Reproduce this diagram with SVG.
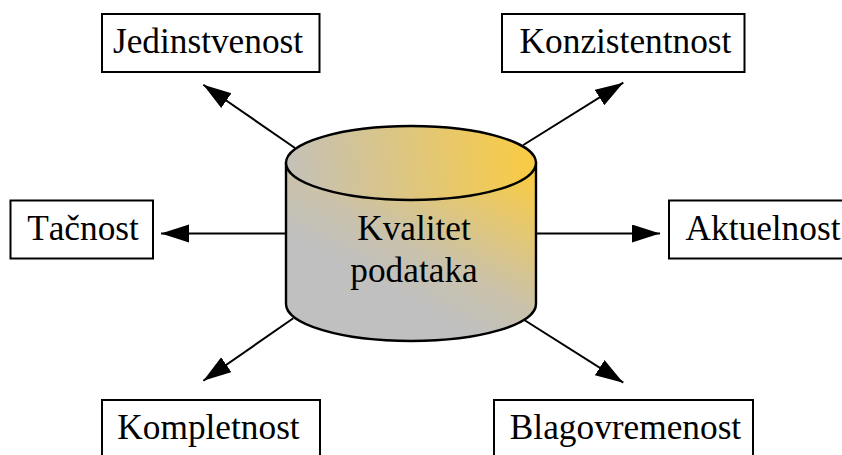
<svg xmlns="http://www.w3.org/2000/svg" width="842" height="455" viewBox="0 0 842 455">
<style>
.box{fill:#fff;stroke:#000;stroke-width:2}
.t{font-family:"Liberation Serif","Times New Roman",serif;font-size:35.300px;font-kerning:none;fill:#000;text-anchor:middle}
.c{stroke:#000;stroke-width:2;fill:none;marker-end:url(#arrow)}
.cyl{stroke:#000;stroke-width:2.4}
</style>
<defs>
<marker id="arrow" markerUnits="userSpaceOnUse" markerWidth="30" markerHeight="20" refX="28" refY="9" orient="auto"><path d="M0 0L28 9L0 18Z" fill="#000"/></marker>
<linearGradient id="body" gradientUnits="userSpaceOnUse" x1="290" y1="235" x2="370" y2="89"><stop offset="0" stop-color="#c0c0c0"/><stop offset="0.3" stop-color="#cac2aa"/><stop offset="1" stop-color="#f8cb46"/></linearGradient>
<linearGradient id="top" gradientUnits="userSpaceOnUse" x1="275" y1="185" x2="525" y2="150"><stop offset="0" stop-color="#c0c0c0"/><stop offset="1" stop-color="#f8cb46"/></linearGradient>
</defs>
<g id="connectors">
<path class="c" d="M295 148L203.300 84.700"/>
<path class="c" d="M523.300 145L623.300 82.700"/>
<path class="c" d="M286 233.500L161 233.500"/>
<path class="c" d="M536 233.500L660 233.500"/>
<path class="c" d="M293.300 318.300L203.300 380.700"/>
<path class="c" d="M524.300 320L623.300 382.700"/>
</g>
<g id="jedinstvenost"><rect class="box" x="102" y="14" width="217.500" height="58"/><text class="t" x="208" y="53">Jedinstvenost</text></g>
<g id="konzistentnost"><rect class="box" x="502" y="14" width="242.500" height="58"/><text class="t" x="625.500" y="53">Konzistentnost</text></g>
<g id="tacnost"><rect class="box" x="10.500" y="200.500" width="142.500" height="58"/><text class="t" x="83" y="240">Tačnost</text></g>
<g id="aktuelnost"><rect class="box" x="669" y="200.500" width="180" height="58"/><text class="t" x="763" y="240">Aktuelnost</text></g>
<g id="kompletnost"><rect class="box" x="102" y="400" width="218" height="70"/><text class="t" x="208.500" y="438.500">Kompletnost</text></g>
<g id="blagovremenost"><rect class="box" x="494" y="400" width="259" height="70"/><text class="t" x="625.500" y="438.500">Blagovremenost</text></g>
<g id="kvalitet-podataka">
<path class="cyl" fill="url(#body)" d="M286 163V304A125 37 0 0 0 536 304V163Z"/>
<ellipse class="cyl" fill="url(#top)" cx="411" cy="163" rx="125" ry="37"/>
<text class="t" x="414" y="239.500">Kvalitet</text>
<text class="t" x="414" y="282">podataka</text>
</g>
</svg>
